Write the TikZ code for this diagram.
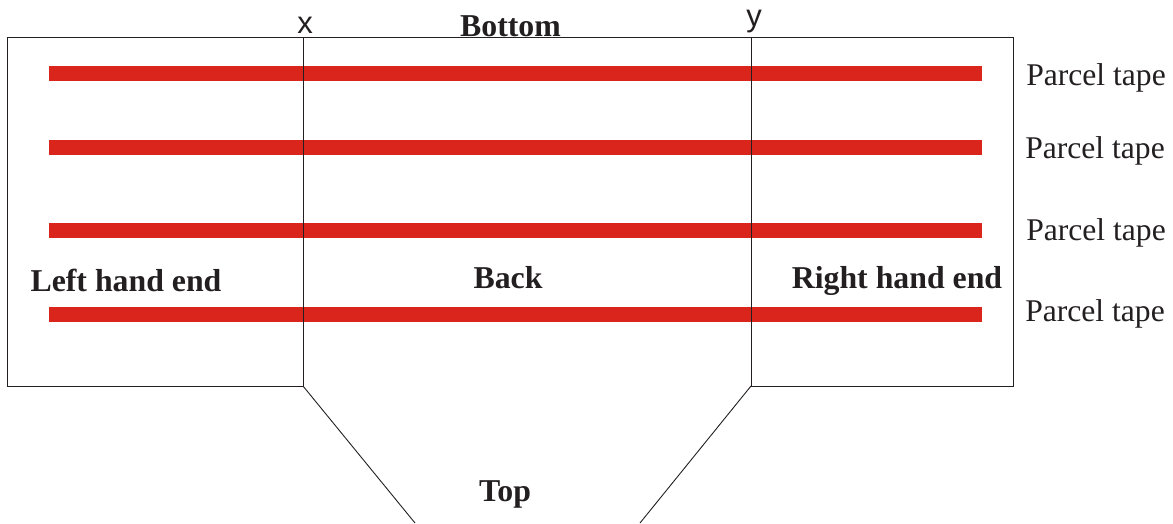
\documentclass[tikz,border=0pt]{standalone}
\usepackage{fontspec}
\setmainfont{Liberation Serif}
\newfontfamily\sansf{Liberation Sans}
\definecolor{tapered}{RGB}{218,37,28}
\definecolor{ink}{RGB}{35,31,32}
\tikzset{
  px/.style={x=1pt,y=-1pt},
  outline/.style={draw=ink,line width=0.9pt,line join=miter},
  tape/.style={fill=tapered,draw=none},
  head/.style={text=ink,font=\bfseries\fontsize{31.8}{34}\selectfont,inner sep=0pt,anchor=center},
  lab/.style={text=ink,font=\fontsize{31.6}{34}\selectfont,inner sep=0pt,anchor=center},
  letter/.style={text=ink,font=\sansf\fontsize{31}{33}\selectfont,inner sep=0pt,anchor=center}
}
\begin{document}
\begin{tikzpicture}[px]
\useasboundingbox (0,0) rectangle (1173,523);
\coordinate (tl) at (7,37);\coordinate (tr) at (1013,37);
\coordinate (br) at (1013,386);\coordinate (bl) at (7,386);
\coordinate (xt) at (303,37);\coordinate (xb) at (303,386);
\coordinate (yt) at (751,37);\coordinate (yb) at (751,386);
\coordinate (pl) at (415,523);\coordinate (pr) at (640,523);
\draw[outline] (tl) -- (tr) -- (br) -- (yb);
\draw[outline] (tl) -- (bl) -- (xb);
\draw[outline] (xb) -- (pl);
\draw[outline] (yb) -- (pr);
\fill[tape] (49,66) rectangle (982,81);
\fill[tape] (49,140) rectangle (982,155);
\fill[tape] (49,223) rectangle (982,238);
\fill[tape] (49,307) rectangle (982,322);
\draw[outline] (xt)--(xb) (yt)--(yb);
\node[letter] (x) at (305,25) {x};
\node[letter] (y) at (754,22) {y};
\node[head] (bottom) at (510.5,26) {Bottom};
\node[head] (left) at (126,280) {Left hand end};
\node[head] (back) at (508,278) {Back};
\node[head] (right) at (897,281) {Right hand end};
\node[head] (top) at (505,494) {Top};
\node[lab] (p1) at (1096,78) {Parcel tape};
\node[lab] (p2) at (1095,151) {Parcel tape};
\node[lab] (p3) at (1096,233) {Parcel tape};
\node[lab] (p4) at (1095,314) {Parcel tape};
\end{tikzpicture}
\end{document}
